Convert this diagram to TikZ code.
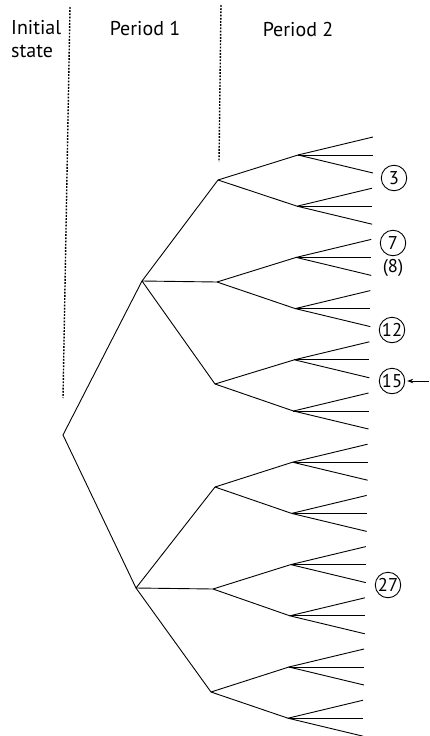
\documentclass[tikz,border=0pt]{standalone}
\usepackage{fontspec}
\setmainfont{PT Sans}
\usetikzlibrary{arrows.meta}
\begin{document}
\begin{tikzpicture}[x=1pt,y=-1pt,
  edge/.style={line width=0.9pt,black},
  sep/.style={line width=1.4pt,dash pattern=on 1.8pt off 1.4pt},
  head/.style={font=\fontsize{20}{24}\selectfont,inner sep=0pt},
  circ/.style={draw,circle,line width=0.9pt,minimum size=25.5pt,inner sep=0pt,font=\fontsize{18.5}{20}\selectfont},
  plain/.style={inner sep=0pt,font=\fontsize{18.5}{20}\selectfont}]
\useasboundingbox (0,0) rectangle (430,736);
% headings
\node[head,anchor=base west] (hinit) at (11,34) {Initial};
\node[head,anchor=base west] (hstate) at (11,57) {state};
\node[head,anchor=base] (hp1) at (145,35) {Period 1};
\node[head,anchor=base] (hp2) at (298,36) {Period 2};
% separators
\coordinate (d1t) at (70,7); \coordinate (d1b) at (63,398);
\coordinate (d2t) at (221,5); \coordinate (d2b) at (219,162);
\draw[sep] (d1t) -- (d1b);
\draw[sep] (d2t) -- (d2b);
% tree
\coordinate (r) at (63,435);
\coordinate (a1) at (142,281);
\coordinate (a2) at (136,588);
\coordinate (b1) at (218,180);
\coordinate (b2) at (217,282);
\coordinate (b3) at (215,384);
\coordinate (b4) at (215,487);
\coordinate (b5) at (213,589);
\coordinate (b6) at (211,692);
\draw[edge] (a1) -- (r) -- (a2);
\draw[edge] (a1) -- (b1); \draw[edge] (a1) -- (b2); \draw[edge] (a1) -- (b3);
\draw[edge] (a2) -- (b4); \draw[edge] (a2) -- (b5); \draw[edge] (a2) -- (b6);
\foreach \i in {1,...,12} {
  \pgfmathsetmacro\cx{298-(\i-1)*10/11}
  \pgfmathsetmacro\cy{155+(\i-1)*51.2}
  \pgfmathsetmacro\lx{373-(\i-1)*0.9}
  \coordinate (c\i) at (\cx,\cy);
  \coordinate (l\i a) at (\lx,\cy-18);
  \coordinate (l\i b) at (\lx,\cy);
  \coordinate (l\i c) at (\lx,\cy+18);
  \draw[edge] (c\i) -- (l\i a);
  \draw[edge] (c\i) -- (l\i b);
  \draw[edge] (c\i) -- (l\i c);
}
\foreach \i/\j in {1/1,1/2,2/3,2/4,3/5,3/6,4/7,4/8,5/9,5/10,6/11,6/12} {
  \draw[edge] (b\i) -- (c\j);
}
% labels
\node[circ] (n3) at (394,178) {3};
\node[circ] (n7) at (393,243) {7};
\node[plain] (n8) at (393,268) {(8)};
\node[circ] (n12) at (392,330) {12};
\node[circ] (n15) at (392,381) {15};
\node[circ] (n27) at (388,585) {27};
\coordinate (ae) at (429,381);
\draw[edge,-{Stealth[length=6pt,width=4.5pt]},shorten >=2pt] (ae) -- (n15);
\end{tikzpicture}
\end{document}
